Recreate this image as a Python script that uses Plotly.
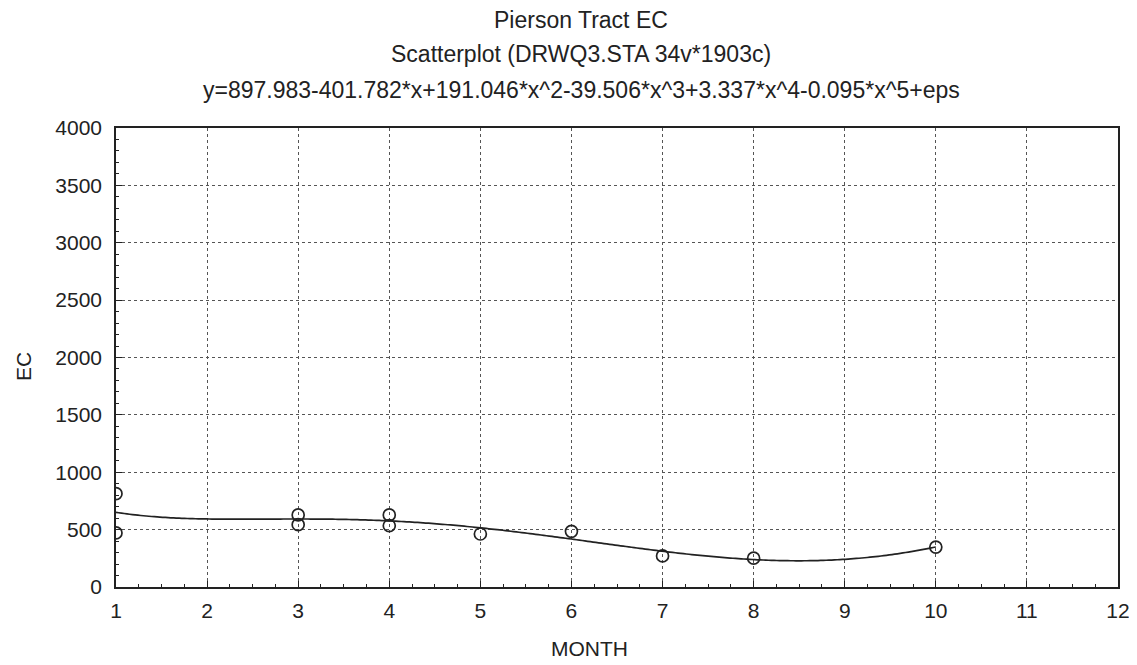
import numpy as np
import plotly.graph_objects as go

# Observed data (MONTH vs EC)
months = [1, 1, 3, 3, 4, 4, 5, 6, 7, 8, 10]
ec = [813, 471, 628, 543, 628, 534, 462, 485, 271, 251, 348]

# Fitted polynomial coefficients printed in the chart (c0..c5)
coeffs = [897.983, -401.782, 191.046, -39.506, 3.337, -0.095]

x_ticks = list(range(1, 13))
y_ticks = list(range(0, 4001, 500))

title_lines = [
    "Pierson Tract EC",
    "Scatterplot (DRWQ3.STA 34v*1903c)",
    "y=897.983-401.782*x+191.046*x^2-39.506*x^3+3.337*x^4-0.095*x^5+eps",
]
x_title = "MONTH"
y_title = "EC"

xf = np.linspace(min(months), max(months), 300)
yf = np.polynomial.polynomial.polyval(xf, coeffs)

# the page body has an 8px default margin, so the figure is sized to fit
OFF = 8
W, H = 1137 - OFF, 665 - OFF
PL, PT, PR, PB = 116, 128, 1118, 587          # plot area in page pixels
L, T = PL - OFF, PT - OFF
R, B = (W + OFF) - PR, (H + OFF) - PB
PW, PH = PR - PL, PB - PT


def px(p):
    return (p - PL) / PW


def py(p):
    return 1 - (p - PT) / PH


fig = go.Figure()
fig.add_trace(go.Scatter(x=xf, y=yf, mode="lines",
                         line=dict(color="#222", width=1.7, simplify=False),
                         showlegend=False))
fig.add_trace(go.Scatter(x=months, y=ec, mode="markers",
                         marker=dict(symbol="circle-open", size=12,
                                     color="#222", line=dict(width=1.7)),
                         showlegend=False))

FAM = "Liberation Sans, Arial"
ann = []
title_y = [20, 54, 90]
for txt, yy in zip(title_lines, title_y):
    ann.append(dict(text=txt, xref="paper", yref="paper",
                    x=px(581), y=py(yy),
                    xanchor="center", yanchor="middle", showarrow=False,
                    font=dict(family=FAM, size=23, color="#222")))
ann.append(dict(text=x_title, xref="paper", yref="paper",
                x=px(589), y=py(648),
                xanchor="center", yanchor="middle", showarrow=False,
                font=dict(family=FAM, size=21, color="#222")))
ann.append(dict(text=y_title, xref="paper", yref="paper", textangle=-90,
                x=px(23), y=py(367),
                xanchor="center", yanchor="middle", showarrow=False,
                font=dict(family=FAM, size=21, color="#222")))

axis_common = dict(ticks="inside", ticklen=6, tickcolor="#222", showline=True,
                   linecolor="#222", linewidth=1.5, mirror=True, showgrid=True,
                   gridcolor="#555", griddash="dot", gridwidth=1, zeroline=False,
                   automargin=False, tickfont=dict(family=FAM, size=21, color="#222"))

fig.update_layout(
    width=W, height=H,
    margin=dict(l=L, r=R, t=T, b=B),
    paper_bgcolor="white", plot_bgcolor="white",
    font=dict(family=FAM, size=21, color="#222"),
    annotations=ann,
    xaxis=dict(range=[1, 12], tickvals=x_ticks, ticklabelstandoff=4,
               minor=dict(dtick=0.25, ticks="inside", ticklen=3, tickcolor="#222",
                          showgrid=False),
               **axis_common),
    yaxis=dict(range=[0, 4000], tickvals=y_ticks, ticklabelstandoff=8,
               minor=dict(dtick=100, ticks="inside", ticklen=3, tickcolor="#222",
                          showgrid=False),
               **axis_common),
)

fig.write_html("out.html")
